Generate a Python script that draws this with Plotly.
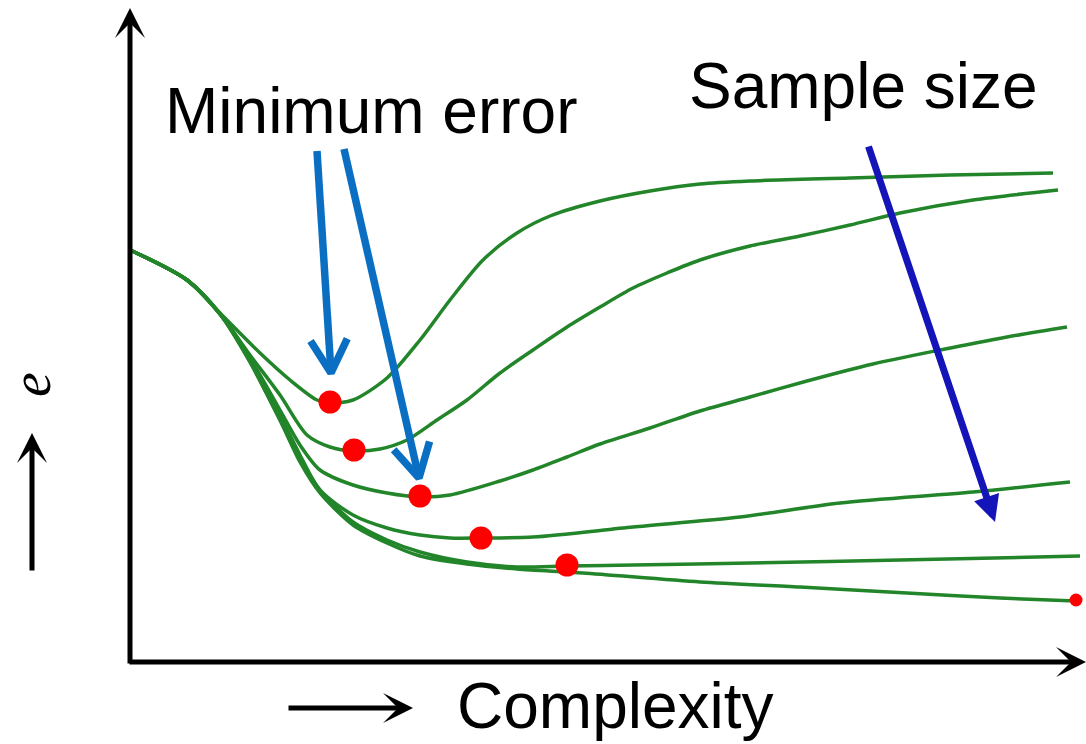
import math
import plotly.graph_objects as go

# ---- data (in the picture's own x/y units) ----
curve1_x = [130, 187, 220, 260, 290, 317, 330, 353, 387, 420, 450, 483, 517, 550, 600, 650, 700, 750, 850, 950, 1053]
curve1_y = [250, 280, 313, 353, 380, 400, 403, 400, 378, 340, 300, 260, 233, 216, 201, 191, 184, 181, 178, 175, 173]

curve2_x = [130, 187, 220, 250, 280, 307, 330, 354, 380, 407, 437, 467, 500, 533, 567, 600, 633, 667, 700, 750, 800, 850, 900, 973, 1058]
curve2_y = [250, 280, 314, 355, 395, 435, 447, 451, 449, 440, 420, 400, 373, 350, 327, 307, 288, 273, 260, 246, 236, 225, 213, 200, 190]

curve3_x = [130, 187, 220, 250, 280, 300, 320, 353, 387, 420, 450, 500, 533, 567, 600, 650, 700, 750, 807, 873, 940, 1007, 1067]
curve3_y = [250, 280, 314, 358, 410, 445, 470, 485, 493, 497, 495, 481, 470, 457, 444, 428, 411, 397, 381, 364, 350, 337, 327]

curve4_x = [130, 187, 220, 250, 280, 300, 320, 353, 387, 420, 450, 481, 533, 633, 740, 840, 973, 1070]
curve4_y = [250, 280, 314, 360, 415, 455, 490, 515, 528, 535, 538, 538, 537, 527, 517, 503, 492, 482]

curve5_x = [130, 187, 220, 250, 280, 300, 320, 353, 387, 420, 467, 517, 567, 633, 750, 900, 1080]
curve5_y = [250, 280, 314, 362, 420, 460, 490, 522, 540, 552, 562, 567, 566, 565, 563, 560, 556]

curve6_x = [130, 187, 220, 250, 280, 300, 320, 353, 387, 420, 467, 517, 583, 700, 800, 907, 1000, 1076]
curve6_y = [250, 280, 314, 362, 420, 462, 493, 525, 543, 556, 564, 569, 573, 582, 587, 593, 598, 601]

curves_x = [curve1_x, curve2_x, curve3_x, curve4_x, curve5_x, curve6_x]
curves_y = [curve1_y, curve2_y, curve3_y, curve4_y, curve5_y, curve6_y]

min_x = [330, 354, 420, 481, 567]
min_y = [402, 450, 496, 538, 565]
end_min_x = [1076]
end_min_y = [600]

title_min = "Minimum error"
title_sample = "Sample size"
x_label = "Complexity"
y_label = "e"

# ---- figure ----
GREEN = "#22852a"
BLUE = "#0a6fc2"
fig = go.Figure()

for cx, cy in zip(curves_x, curves_y):
    fig.add_trace(go.Scatter(x=cx, y=cy, mode="lines",
                             line=dict(color=GREEN, width=3.5, shape="spline", smoothing=0.8),
                             hoverinfo="skip"))

fig.add_trace(go.Scatter(x=min_x, y=min_y, mode="markers",
                         marker=dict(color="#ff0000", size=23, line=dict(width=0))))
fig.add_trace(go.Scatter(x=end_min_x, y=end_min_y, mode="markers",
                         marker=dict(color="#ff0000", size=13, line=dict(width=0))))


def chevron_arrow(tail, tip, arm_len=38, half_angle=29):
    """Shaft plus an open chevron head, as one poly-line path."""
    dx, dy = tip[0] - tail[0], tip[1] - tail[1]
    n = math.hypot(dx, dy)
    ux, uy = dx / n, dy / n
    xs = [tail[0], tip[0], None]
    ys = [tail[1], tip[1], None]
    pts_x, pts_y = [], []
    for sgn in (-1, 1):
        a = math.radians(sgn * half_angle)
        rx = ux * math.cos(a) - uy * math.sin(a)
        ry = ux * math.sin(a) + uy * math.cos(a)
        pts_x.append(tip[0] - arm_len * rx)
        pts_y.append(tip[1] - arm_len * ry)
    xs += [pts_x[0], tip[0], pts_x[1]]
    ys += [pts_y[0], tip[1], pts_y[1]]
    return xs, ys


for tail, tip in [((317, 151), (331, 373)), ((344, 149), (419, 478))]:
    ax_, ay_ = chevron_arrow(tail, tip)
    fig.add_trace(go.Scatter(x=ax_, y=ay_, mode="lines",
                             line=dict(color=BLUE, width=7.5), hoverinfo="skip"))


def arrow(x0, y0, x1, y1, color, width, head=2, size=1.0):
    return dict(x=x1, y=y1, ax=x0, ay=y0, xref="x", yref="y", axref="x", ayref="y",
                text="", showarrow=True, arrowhead=head, arrowsize=size,
                arrowwidth=width, arrowcolor=color, standoff=0, startstandoff=0)


annotations = [
    # axes
    arrow(130, 665, 130, 8, "black", 5, head=3, size=1.0),
    arrow(128, 662, 1086, 662, "black", 5, head=3, size=1.0),
    # small axis-label arrows
    arrow(32, 572, 32, 433, "black", 5, head=3, size=1.0),
    arrow(287, 708, 413, 708, "black", 5, head=3, size=1.0),
    # sample-size arrow
    arrow(868, 145, 995, 522, "#1414b8", 7, head=2, size=0.75),
    # texts
    dict(x=371, y=111, xref="x", yref="y", text=title_min, showarrow=False,
         xanchor="center", yanchor="middle",
         font=dict(family="Liberation Sans, Arial, sans-serif", size=64, color="black")),
    dict(x=863, y=86, xref="x", yref="y", text=title_sample, showarrow=False,
         xanchor="center", yanchor="middle",
         font=dict(family="Liberation Sans, Arial, sans-serif", size=64, color="black")),
    dict(x=455, y=706, xref="x", yref="y", text=x_label, showarrow=False,
         xanchor="left", yanchor="middle",
         font=dict(family="Liberation Sans, Arial, sans-serif", size=64, color="black")),
    dict(x=31, y=385, xref="x", yref="y", text="<i>" + y_label + "</i>", showarrow=False,
         xanchor="center", yanchor="middle", textangle=-90,
         font=dict(family="Liberation Serif, Times New Roman, serif", size=56, color="black")),
]

fig.update_layout(
    width=1086, height=744,
    margin=dict(l=0, r=0, t=0, b=0),
    paper_bgcolor="white", plot_bgcolor="white",
    showlegend=False,
    xaxis=dict(range=[0, 1086], visible=False, fixedrange=True),
    yaxis=dict(range=[744, 0], visible=False, fixedrange=True),
    annotations=annotations,
)

fig.write_html("out.html",
               config={"displayModeBar": False, "staticPlot": True},
               post_script="document.body.style.margin='0';document.body.style.overflow='hidden';")
